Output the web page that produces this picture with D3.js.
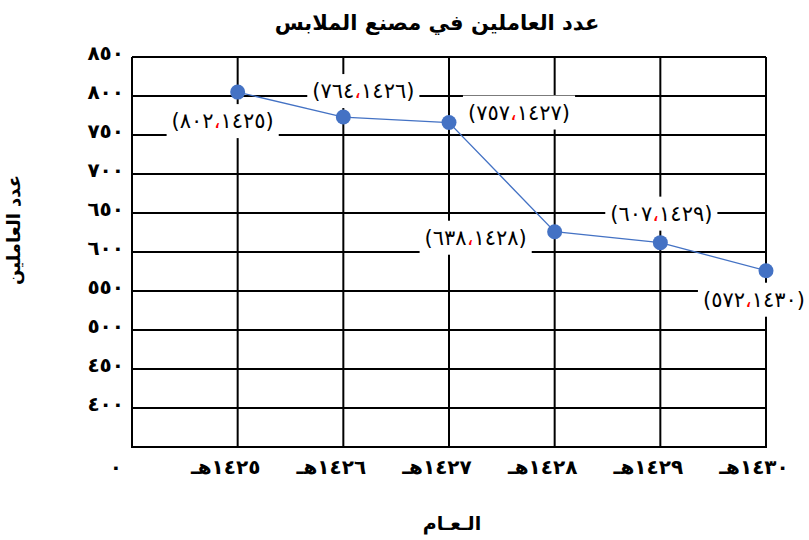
<!DOCTYPE html>
<html>
<head>
<meta charset="utf-8">
<script src="https://cdn.jsdelivr.net/npm/d3@7"></script>
<style>
  body { margin: 0; background: #fff; }
  svg { display: block; font-family: "DejaVu Sans", sans-serif; }
</style>
</head>
<body>
<svg></svg>
<script>
// years on the x axis (hijri)
const years = [1425, 1426, 1427, 1428, 1429, 1430];
// marker positions as drawn
const workers = [805, 773, 766, 626, 612, 576];
// values printed in the data labels
const labelValues = [802, 764, 757, 638, 607, 572];
const yTicks = [400, 450, 500, 550, 600, 650, 700, 750, 800, 850];

// label offsets from the marker (px)
const labelDx = [-15, 20, 70, -79, 1, -12];
const labelDy = [29, -26, -10, 6, -29, 29];

const svg = d3.select("svg")
    .attr("width", 809)
    .attr("height", 540);

const arDigits = "٠١٢٣٤٥٦٧٨٩";
const toAr = n => String(n).replace(/\d/g, d => arDigits[+d]);

const x = d3.scaleLinear().domain([1424, 1430]).range([132, 766]);
const y = d3.scaleLinear().domain([350, 850]).range([447, 57]);

const g = svg.append("g");

// grid: horizontal lines
g.selectAll(".hgrid")
    .data(yTicks)
    .enter()
    .append("line")
    .attr("x1", x(1424))
    .attr("x2", x(1430))
    .attr("y1", d => y(d))
    .attr("y2", d => y(d))
    .attr("stroke", "#000")
    .attr("stroke-width", 2);

// vertical lines
g.selectAll(".vgrid")
    .data([1424].concat(years))
    .enter()
    .append("line")
    .attr("x1", d => x(d))
    .attr("x2", d => x(d))
    .attr("y1", y(850))
    .attr("y2", y(350))
    .attr("stroke", "#000")
    .attr("stroke-width", 2);

// bottom border
g.append("line")
    .attr("x1", x(1424) - 1)
    .attr("x2", x(1430) + 1)
    .attr("y1", y(350))
    .attr("y2", y(350))
    .attr("stroke", "#000")
    .attr("stroke-width", 2);

// y tick labels
g.selectAll(".ylab")
    .data(yTicks)
    .enter()
    .append("text")
    .attr("x", 124)
    .attr("y", d => y(d) + 3)
    .attr("text-anchor", "end")
    .attr("font-size", 20)
    .attr("font-weight", "bold")
    .attr("letter-spacing", 4)
    .text(d => toAr(d));

// origin label
g.append("text")
    .attr("x", 122)
    .attr("y", 474)
    .attr("text-anchor", "end")
    .attr("font-size", 20)
    .attr("font-weight", "bold")
    .text(toAr(0));

// x tick labels
g.selectAll(".xlab")
    .data(years)
    .enter()
    .append("text")
    .attr("x", d => x(d) - 12)
    .attr("y", 474)
    .attr("text-anchor", "middle")
    .attr("font-size", 20)
    .attr("font-weight", "bold")
    .attr("letter-spacing", 3)
    .text(d => toAr(d) + "هـ");

// line
const line = d3.line()
    .x((d, i) => x(years[i]))
    .y(d => y(d));

g.append("path")
    .datum(workers)
    .attr("fill", "none")
    .attr("stroke", "#4472C4")
    .attr("stroke-width", 1.3)
    .attr("d", line);

// data labels with white boxes
const labels = g.selectAll(".dlab")
    .data(years)
    .enter()
    .append("g")
    .attr("transform", (d, i) => `translate(${x(d) + labelDx[i]},${y(workers[i]) + labelDy[i]})`);

labels.each(function (d, i) {
    const lg = d3.select(this);
    const box = lg.append("rect").attr("fill", "#fff");
    const t = lg.append("text")
        .attr("text-anchor", "middle")
        .attr("dy", "0.35em")
        .attr("font-size", 21)
        .attr("letter-spacing", 2)
        .style("unicode-bidi", "bidi-override")
        .style("direction", "ltr");
    t.append("tspan").text("(" + toAr(labelValues[i]));
    t.append("tspan").attr("fill", "#ff0000").text("،");
    t.append("tspan").text(toAr(d) + ")");
    const bb = t.node().getBBox();
    box.attr("x", bb.x - 5)
        .attr("y", -17)
        .attr("width", bb.width + 10)
        .attr("height", 34);
});

// markers
g.selectAll(".dot")
    .data(workers)
    .enter()
    .append("circle")
    .attr("cx", (d, i) => x(years[i]))
    .attr("cy", d => y(d))
    .attr("r", 7.5)
    .attr("fill", "#4472C4");

// titles
svg.append("text")
    .attr("x", 437)
    .attr("y", 30)
    .attr("text-anchor", "middle")
    .attr("font-size", 21)
    .attr("font-weight", "bold")
    .text("عدد العاملين في مصنع الملابس");

svg.append("text")
    .attr("transform", "translate(20,230) rotate(-90)")
    .attr("text-anchor", "middle")
    .attr("font-size", 18)
    .attr("font-weight", "bold")
    .text("عدد العاملين");

svg.append("text")
    .attr("x", 452)
    .attr("y", 530)
    .attr("text-anchor", "middle")
    .attr("font-size", 19)
    .attr("font-weight", "bold")
    .text("الـعـام");
</script>
</body>
</html>
